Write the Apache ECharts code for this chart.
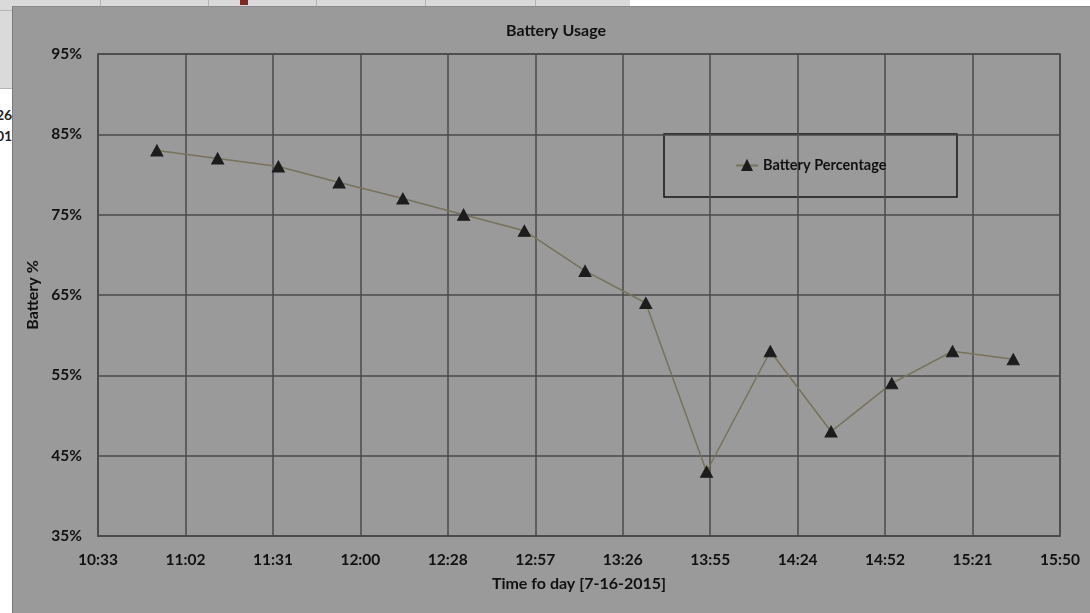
<!DOCTYPE html>
<html>
<head>
<meta charset="utf-8">
<script src="https://cdn.jsdelivr.net/npm/echarts@6/dist/echarts.min.js"></script>
<style>
  html, body { margin: 0; padding: 0; background: #ffffff; }
  #page { position: relative; width: 1090px; height: 613px; overflow: hidden; background: #ffffff; }
  .sheet { position: absolute; background: #dadada; }
  .vline { position: absolute; width: 1px; background: #b4b4b4; }
  .hline { position: absolute; height: 1px; background: #b4b4b4; }
  .cell { position: absolute; font: bold 14px Lato, "Liberation Sans", sans-serif; color: #222; white-space: nowrap; }
  #panel { position: absolute; left: 12px; top: 6px; width: 1090px; height: 620px; background: #9a9a9a; border-left: 1px solid #7c7c7c; border-top: 1px solid #8a8a8a; }
  #chart { position: absolute; left: 0; top: 0; width: 1090px; height: 613px; }
</style>
</head>
<body>
<div id="page">
  <!-- worksheet cells behind the chart -->
  <div class="sheet" style="left:0;top:0;width:630px;height:7px;"></div>
  <div class="sheet" style="left:0;top:0;width:13px;height:88px;"></div>
  <div class="vline" style="left:100px;top:0;height:7px;"></div>
  <div class="vline" style="left:208px;top:0;height:7px;"></div>
  <div class="vline" style="left:316px;top:0;height:7px;"></div>
  <div class="vline" style="left:425px;top:0;height:7px;"></div>
  <div class="vline" style="left:535px;top:0;height:7px;"></div>
  <div class="hline" style="left:0;top:10px;width:13px;"></div>
  <div class="hline" style="left:0;top:88px;width:13px;"></div>
  <div style="position:absolute;left:240px;top:0;width:8px;height:5px;background:#7a2a22;"></div>
  <div style="position:absolute;left:0;top:106px;width:12px;height:44px;overflow:hidden;">
    <div class="cell" style="left:-4px;top:0;">26</div>
    <div class="cell" style="left:-4px;top:21px;">01</div>
  </div>
  <div id="panel"></div>
  <div id="chart"></div>
</div>
<script>
// Sample times (hh:mm) on 7-16-2015 and the battery level read at each
const times = ['10:53', '11:13', '11:33', '11:53', '12:14', '12:34', '12:54', '13:14',
               '13:34', '13:54', '14:15', '14:35', '14:55', '15:15', '15:35'];
const battery = [83, 82, 81, 79, 77, 75, 73, 68, 64, 43, 58, 48, 54, 58, 57];

// Time axis ticks, one every 0.02 day (28.8 min), starting at 0.44 day
const timeTicks = ['10:33', '11:02', '11:31', '12:00', '12:28', '12:57',
                   '13:26', '13:55', '14:24', '14:52', '15:21', '15:50'];
const yTicks = [35, 45, 55, 65, 75, 85, 95];

// x is measured in 0.02-day steps so the axis ticks fall on whole numbers
const STEP_MIN = 28.8;
const firstStep = 22;           // 0.44 day
const lastStep = firstStep + timeTicks.length - 1;
function toSteps(t) {
  const [h, m] = t.split(':').map(Number);
  return (h * 60 + m) / STEP_MIN;
}
const points = times.map((t, i) => [toSteps(t), battery[i]]);

const font = 'Lato, "Liberation Sans", sans-serif';
const ink = '#111';
const chart = echarts.init(document.getElementById('chart'), null, { renderer: 'canvas' });
chart.setOption({
  backgroundColor: 'transparent',
  animation: false,
  title: {
    text: 'Battery Usage',
    left: 501, top: 18,
    textStyle: { fontFamily: font, fontWeight: 'bold', fontSize: 16, color: ink }
  },
  // framed legend box
  graphic: [{
    type: 'rect',
    shape: { x: 664, y: 134, width: 293, height: 63 },
    style: { fill: 'transparent', stroke: '#151515', lineWidth: 1.5 },
    silent: true
  }],
  legend: {
    left: 735, top: 158,
    padding: 0,
    itemWidth: 22, itemHeight: 11, itemGap: 5,
    textStyle: { fontFamily: font, fontWeight: 'bold', fontSize: 14.5, color: ink },
    data: ['Battery Percentage']
  },
  grid: {
    left: 98, right: 30, top: 54, bottom: 77,
    show: true, borderColor: '#4a4a4a', borderWidth: 1.5,
    backgroundColor: 'transparent'
  },
  xAxis: {
    type: 'value',
    min: firstStep, max: lastStep, interval: 1,
    name: 'Time fo day [7-16-2015]',
    nameLocation: 'middle', nameGap: 40,
    nameTextStyle: { fontFamily: font, fontWeight: 'bold', fontSize: 16, color: ink },
    axisLine: { show: true, lineStyle: { color: '#4a4a4a', width: 1.5 } },
    axisTick: { show: false },
    axisLabel: {
      margin: 16,
      fontFamily: font, fontWeight: 'bold', fontSize: 15.5, color: ink,
      formatter: v => timeTicks[Math.round(v - firstStep)]
    },
    splitLine: { show: true, lineStyle: { color: '#4a4a4a', width: 1.5 } }
  },
  yAxis: {
    type: 'value',
    min: yTicks[0], max: yTicks[yTicks.length - 1], interval: 10,
    name: 'Battery %',
    nameLocation: 'middle', nameGap: 53, nameRotate: 90,
    nameTextStyle: { fontFamily: font, fontWeight: 'bold', fontSize: 16, color: ink },
    axisLine: { show: true, lineStyle: { color: '#4a4a4a', width: 1.5 } },
    axisTick: { show: false },
    axisLabel: {
      margin: 16,
      fontFamily: font, fontWeight: 'bold', fontSize: 15.5, color: ink,
      formatter: '{value}%'
    },
    splitLine: { show: true, lineStyle: { color: '#4a4a4a', width: 1.5 } }
  },
  series: [{
    name: 'Battery Percentage',
    type: 'line',
    data: points,
    symbol: 'triangle',
    symbolSize: [12, 11],
    itemStyle: { color: '#1c1c1c', borderColor: '#1c1c1c', borderWidth: 1 },
    lineStyle: { color: '#77725a', width: 1.5 }
  }]
});
</script>
</body>
</html>
